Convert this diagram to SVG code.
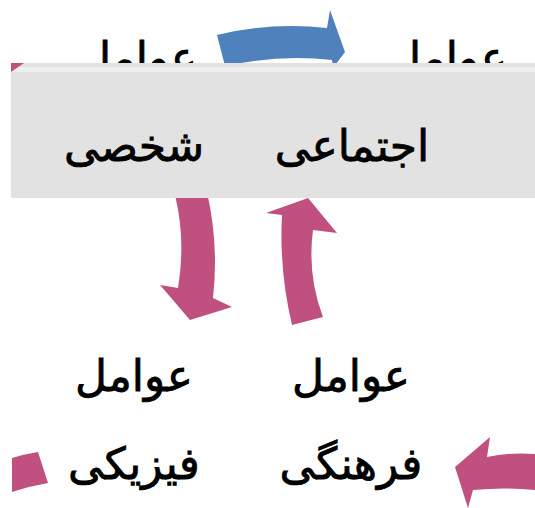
<svg xmlns="http://www.w3.org/2000/svg" width="535" height="508" viewBox="0 0 535 508">
<style>
.t{font-family:"DejaVu Sans",sans-serif;font-size:44px;fill:#000;stroke:#000;stroke-width:0.8;text-anchor:middle;direction:rtl}
.pink{fill:#c0507f}
.blue{fill:#4f81bd}
</style>
<rect width="535" height="508" fill="#fff"/>
<g id="node-personal-top">
<text class="t" x="138" y="73">عوامل</text>
</g>
<g id="node-social-top">
<text class="t" x="448" y="73">عوامل</text>
</g>
<g id="connectors">
<path class="blue" d="M217,35 Q270,22 327,28 L330,10 L345,52 L333,68 L332,60 Q280,54 225,66 Z"/>
<path class="pink" d="M175,195 L207,192 Q219,245 213,298 L232,307 L190,320 L160,285 L178,288 Q186,240 175,195 Z"/>
<path class="pink" d="M308,198 L337,233 L313,230 Q307,275 323,317 L292,325 Q279,270 282,215 L266,213 Z"/>
<path class="pink" d="M455,467 L490,437 L487,457 Q510,452 535,454 L535,490 Q505,487 473,490 L468,508 Z"/>
<path class="pink" d="M12,458 Q25,454 38,452 L48,483 Q30,486 12,492 Z"/>
</g>
<g id="band">
<rect x="11" y="63" width="524" height="135" fill="#e2e2e2"/>
<rect x="11" y="67" width="524" height="5" fill="#eeeeee"/>
<path class="pink" d="M11,63 L24,63 L11,72 Z"/>
</g>
<g id="node-personal">
<text class="t" x="134" y="161">شخصی</text>
</g>
<g id="node-social">
<text class="t" x="352" y="161">اجتماعی</text>
</g>
<g id="node-physical">
<text class="t" x="134" y="391">عوامل</text>
<text class="t" x="134" y="479">فیزیکی</text>
</g>
<g id="node-cultural">
<text class="t" x="351" y="391">عوامل</text>
<text class="t" x="351" y="479">فرهنگی</text>
</g>
</svg>
